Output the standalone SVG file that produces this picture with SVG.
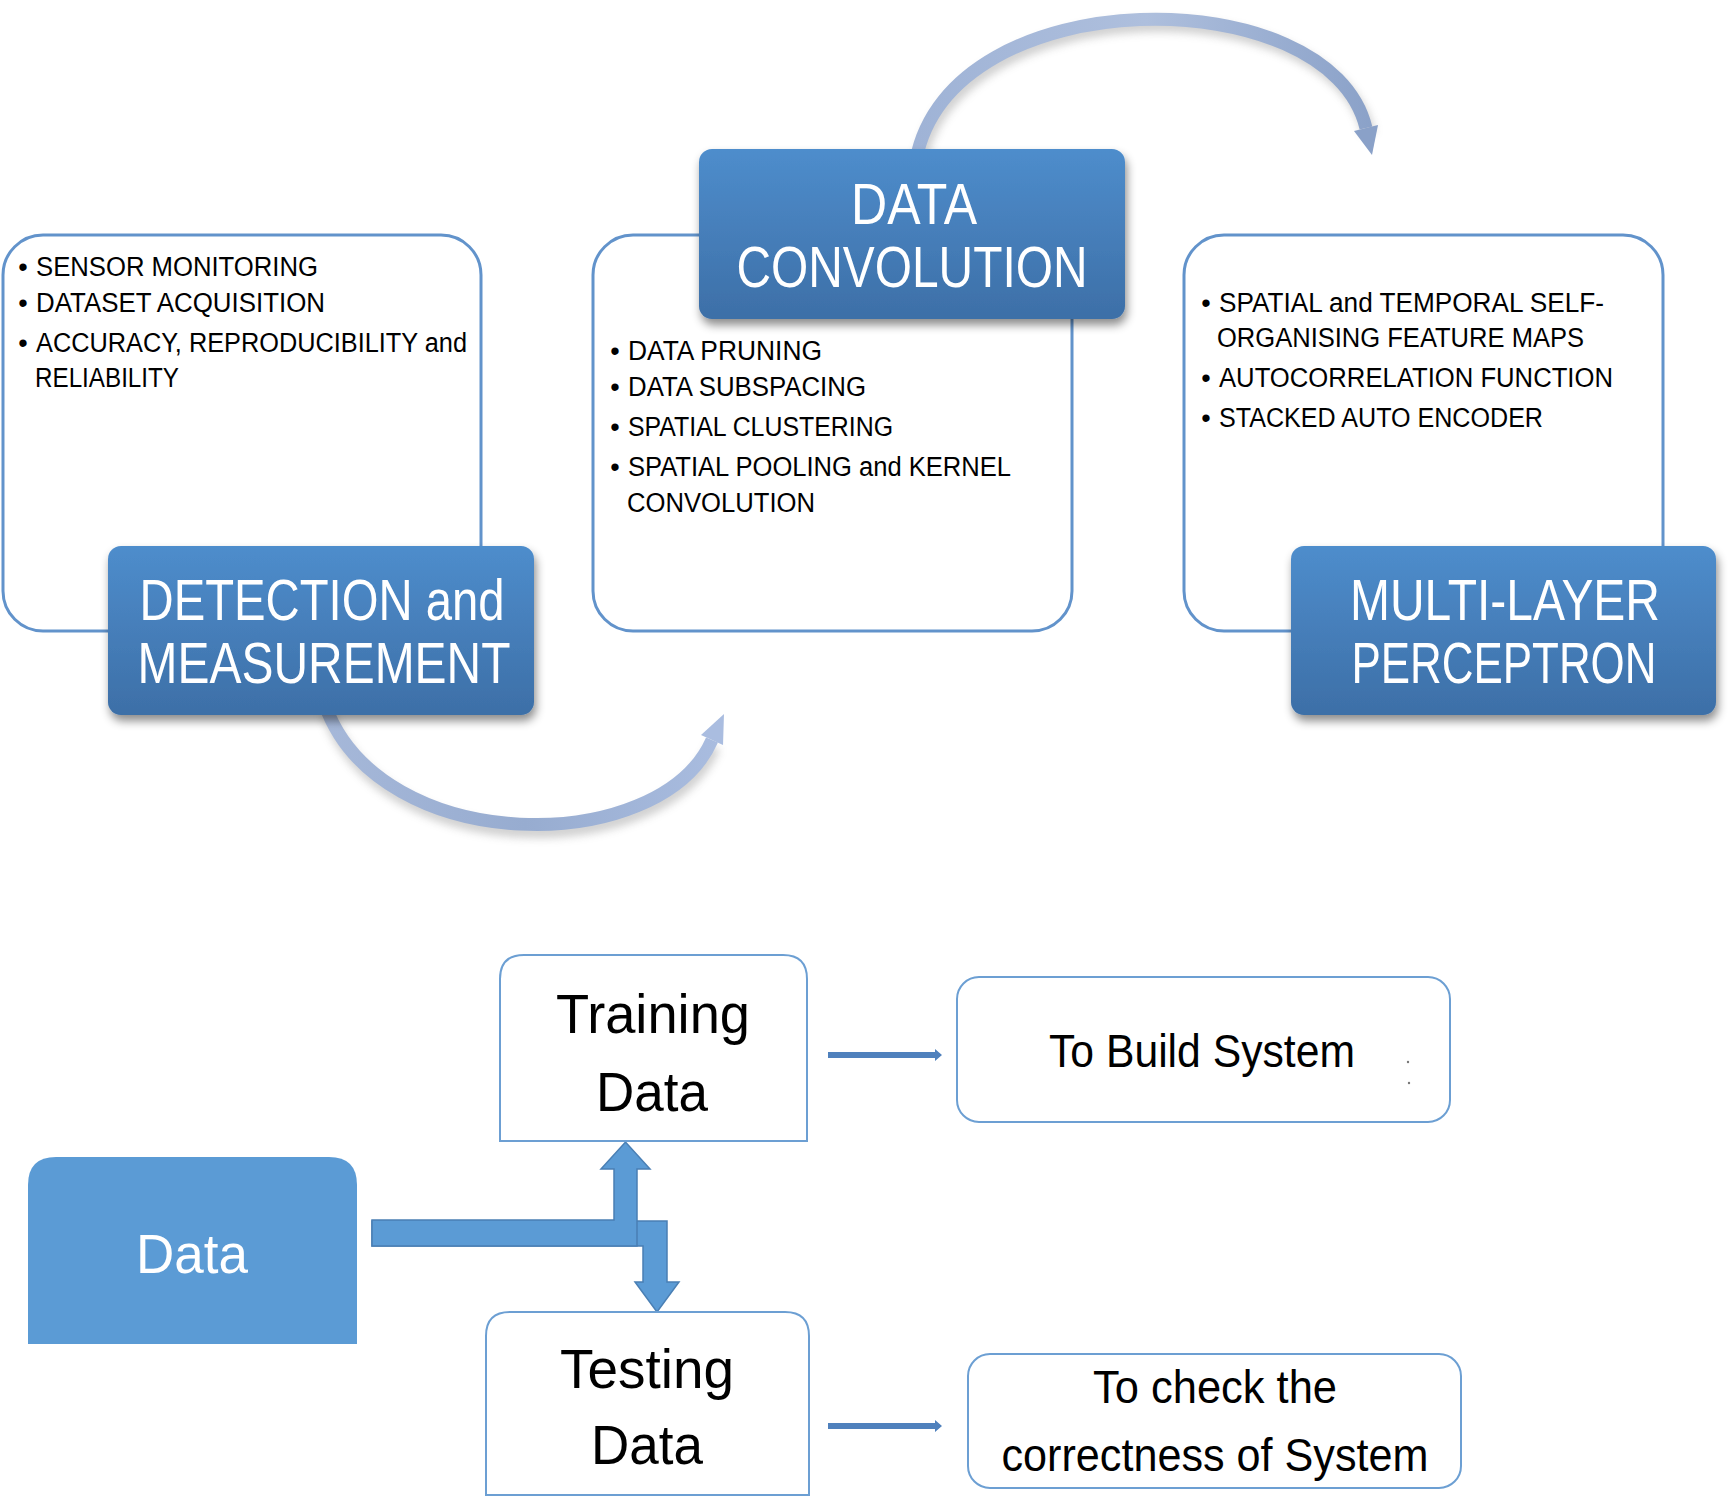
<svg xmlns="http://www.w3.org/2000/svg" width="1735" height="1510" viewBox="0 0 1735 1510">
<style>
.edge{fill:none;stroke:#6293cb;stroke-width:3}
.hdr{fill:url(#hg);filter:url(#sh)}
.ht{font-family:"Liberation Sans",Arial,sans-serif;font-size:57px;fill:#fff;text-anchor:middle}
.bt{font-family:"Liberation Sans",Arial,sans-serif;font-size:27px;fill:#000}
.bl{font-family:"Liberation Sans",Arial,sans-serif;font-size:27px;fill:#000;text-anchor:middle}
.lt{font-family:"Liberation Sans",Arial,sans-serif;font-size:56px;fill:#000;text-anchor:middle}
.dt{font-family:"Liberation Sans",Arial,sans-serif;font-size:56px;fill:#fff;text-anchor:middle}
.mt{font-family:"Liberation Sans",Arial,sans-serif;font-size:47px;fill:#000;text-anchor:middle}
.wb{fill:#fff;stroke:#6c9fd3;stroke-width:2}
.blk{fill:#5b9bd5;stroke:#4a7fb4;stroke-width:1.5}
.sm{fill:#4f81bd}
.arc{fill:none;stroke-width:13}
</style>
<defs>
<linearGradient id="hg" x1="0" y1="0" x2="0" y2="1">
<stop offset="0" stop-color="#4e8dcc"/>
<stop offset="1" stop-color="#3d6fa7"/>
</linearGradient>
<linearGradient id="ag1" gradientUnits="userSpaceOnUse" x1="916" y1="0" x2="1375" y2="0">
<stop offset="0" stop-color="#9fb3d6"/>
<stop offset="0.5" stop-color="#aebfdd"/>
<stop offset="1" stop-color="#8aa1c8"/>
</linearGradient>
<linearGradient id="ag2" gradientUnits="userSpaceOnUse" x1="320" y1="0" x2="730" y2="0">
<stop offset="0" stop-color="#a6b8d9"/>
<stop offset="0.5" stop-color="#97acd0"/>
<stop offset="1" stop-color="#aabde0"/>
</linearGradient>
<filter id="sh" x="-10%" y="-10%" width="120%" height="130%">
<feDropShadow dx="2" dy="6" stdDeviation="5" flood-color="#000" flood-opacity="0.45"/>
</filter>
<filter id="ash" x="-10%" y="-20%" width="120%" height="140%">
<feGaussianBlur stdDeviation="4"/>
</filter>
</defs>

<g id="connectors">
<g id="arc-top">
<path d="M916 160 C950 -22 1330 -22 1366 128" fill="none" stroke="#777" stroke-width="13" opacity="0.35" filter="url(#ash)" transform="translate(3,6)"/>
<path class="arc" d="M916 160 C950 -22 1330 -22 1366 128" stroke="url(#ag1)"/>
<polygon points="1378,125 1354,131 1372,155" fill="#8aa1c8"/>
</g>
<g id="arc-bottom">
<path d="M325 705 C380 858 660 858 712 740" fill="none" stroke="#777" stroke-width="13" opacity="0.35" filter="url(#ash)" transform="translate(2,7)"/>
<path class="arc" d="M325 705 C380 858 660 858 712 740" stroke="url(#ag2)"/>
<polygon points="723,745 701,735 724,714" fill="#aabde0"/>
</g>
<g id="split-arrows">
<polygon class="blk" points="372,1221 667,1221 667,1282 679,1282 657,1312 635,1282 643,1282 643,1246 372,1246"/>
<polygon class="blk" points="372,1246 637,1246 637,1169 650,1169 625.5,1142 601,1169 614,1169 614,1220 372,1220"/>
</g>
<g id="small-arrows">
<polygon class="sm" points="828,1052 935,1052 935,1049 942,1055 935,1061 935,1058 828,1058"/>
<polygon class="sm" points="828,1423 935,1423 935,1420 942,1426 935,1432 935,1429 828,1429"/>
</g>
</g>

<g id="detection-list">
<path class="edge" d="M108 631 H43 A40 40 0 0 1 3 591 V275 A40 40 0 0 1 43 235 H441 A40 40 0 0 1 481 275 V546"/>
<text class="bl" x="23" y="276">•</text>
<text class="bt" x="36" y="276" textLength="282" lengthAdjust="spacingAndGlyphs">SENSOR MONITORING</text>
<text class="bl" x="23" y="312">•</text>
<text class="bt" x="36" y="312" textLength="289" lengthAdjust="spacingAndGlyphs">DATASET ACQUISITION</text>
<text class="bl" x="23" y="352">•</text>
<text class="bt" x="36" y="352" textLength="431" lengthAdjust="spacingAndGlyphs">ACCURACY, REPRODUCIBILITY and</text>
<text class="bt" x="35" y="387" textLength="144" lengthAdjust="spacingAndGlyphs">RELIABILITY</text>
</g>

<g id="convolution-list">
<path class="edge" d="M699 235 H633 A40 40 0 0 0 593 275 V591 A40 40 0 0 0 633 631 H1032 A40 40 0 0 0 1072 591 V319"/>
<text class="bl" x="615" y="360">•</text>
<text class="bt" x="628" y="360" textLength="194" lengthAdjust="spacingAndGlyphs">DATA PRUNING</text>
<text class="bl" x="615" y="396">•</text>
<text class="bt" x="628" y="396" textLength="238" lengthAdjust="spacingAndGlyphs">DATA SUBSPACING</text>
<text class="bl" x="615" y="436">•</text>
<text class="bt" x="628" y="436" textLength="265" lengthAdjust="spacingAndGlyphs">SPATIAL CLUSTERING</text>
<text class="bl" x="615" y="476">•</text>
<text class="bt" x="628" y="476" textLength="383" lengthAdjust="spacingAndGlyphs">SPATIAL POOLING and KERNEL</text>
<text class="bt" x="627" y="512" textLength="188" lengthAdjust="spacingAndGlyphs">CONVOLUTION</text>
</g>

<g id="mlp-list">
<path class="edge" d="M1291 631 H1224 A40 40 0 0 1 1184 591 V275 A40 40 0 0 1 1224 235 H1623 A40 40 0 0 1 1663 275 V546"/>
<text class="bl" x="1206" y="312">•</text>
<text class="bt" x="1219" y="312" textLength="385" lengthAdjust="spacingAndGlyphs">SPATIAL and TEMPORAL  SELF-</text>
<text class="bt" x="1217" y="347" textLength="367" lengthAdjust="spacingAndGlyphs">ORGANISING FEATURE MAPS</text>
<text class="bl" x="1206" y="387">•</text>
<text class="bt" x="1219" y="387" textLength="394" lengthAdjust="spacingAndGlyphs">AUTOCORRELATION FUNCTION</text>
<text class="bl" x="1206" y="427">•</text>
<text class="bt" x="1219" y="427" textLength="324" lengthAdjust="spacingAndGlyphs">STACKED AUTO ENCODER</text>
</g>

<g id="detection-header">
<rect class="hdr" x="108" y="546" width="426" height="169" rx="13"/>
<text class="ht" x="322" y="620" textLength="365" lengthAdjust="spacingAndGlyphs">DETECTION and</text>
<text class="ht" x="324" y="683" textLength="373" lengthAdjust="spacingAndGlyphs">MEASUREMENT</text>
</g>

<g id="convolution-header">
<rect class="hdr" x="699" y="149" width="426" height="170" rx="13"/>
<text class="ht" x="914" y="224" textLength="126" lengthAdjust="spacingAndGlyphs">DATA</text>
<text class="ht" x="912" y="287" textLength="351" lengthAdjust="spacingAndGlyphs">CONVOLUTION</text>
</g>

<g id="mlp-header">
<rect class="hdr" x="1291" y="546" width="425" height="169" rx="13"/>
<text class="ht" x="1505" y="620" textLength="310" lengthAdjust="spacingAndGlyphs">MULTI-LAYER</text>
<text class="ht" x="1504" y="683" textLength="305" lengthAdjust="spacingAndGlyphs">PERCEPTRON</text>
</g>

<g id="data">
<path d="M28 1344 V1185 Q28 1157 56 1157 H329 Q357 1157 357 1185 V1344 Z" fill="#5b9bd5"/>
<text class="dt" x="192" y="1273" textLength="112" lengthAdjust="spacingAndGlyphs">Data</text>
</g>

<g id="training-data">
<path class="wb" d="M500 1141 V979 Q500 955 524 955 H783 Q807 955 807 979 V1141 Z"/>
<text class="lt" x="653" y="1033" textLength="194" lengthAdjust="spacingAndGlyphs">Training</text>
<text class="lt" x="652" y="1111" textLength="112" lengthAdjust="spacingAndGlyphs">Data</text>
</g>

<g id="testing-data">
<path class="wb" d="M486 1495 V1336 Q486 1312 510 1312 H785 Q809 1312 809 1336 V1495 Z"/>
<text class="lt" x="647" y="1388" textLength="174" lengthAdjust="spacingAndGlyphs">Testing</text>
<text class="lt" x="647" y="1464" textLength="112" lengthAdjust="spacingAndGlyphs">Data</text>
</g>

<g id="build-system">
<rect class="wb" x="957" y="977" width="493" height="145" rx="22"/>
<text class="mt" x="1202" y="1067" textLength="306" lengthAdjust="spacingAndGlyphs">To Build System</text>
<circle cx="1408" cy="1062" r="1.2" fill="#777"/>
<circle cx="1409" cy="1083" r="1.2" fill="#777"/>
</g>

<g id="check-system">
<rect class="wb" x="968" y="1354" width="493" height="134" rx="22"/>
<text class="mt" x="1215" y="1403" textLength="244" lengthAdjust="spacingAndGlyphs">To check the</text>
<text class="mt" x="1215" y="1471" textLength="427" lengthAdjust="spacingAndGlyphs">correctness of System</text>
</g>
</svg>
